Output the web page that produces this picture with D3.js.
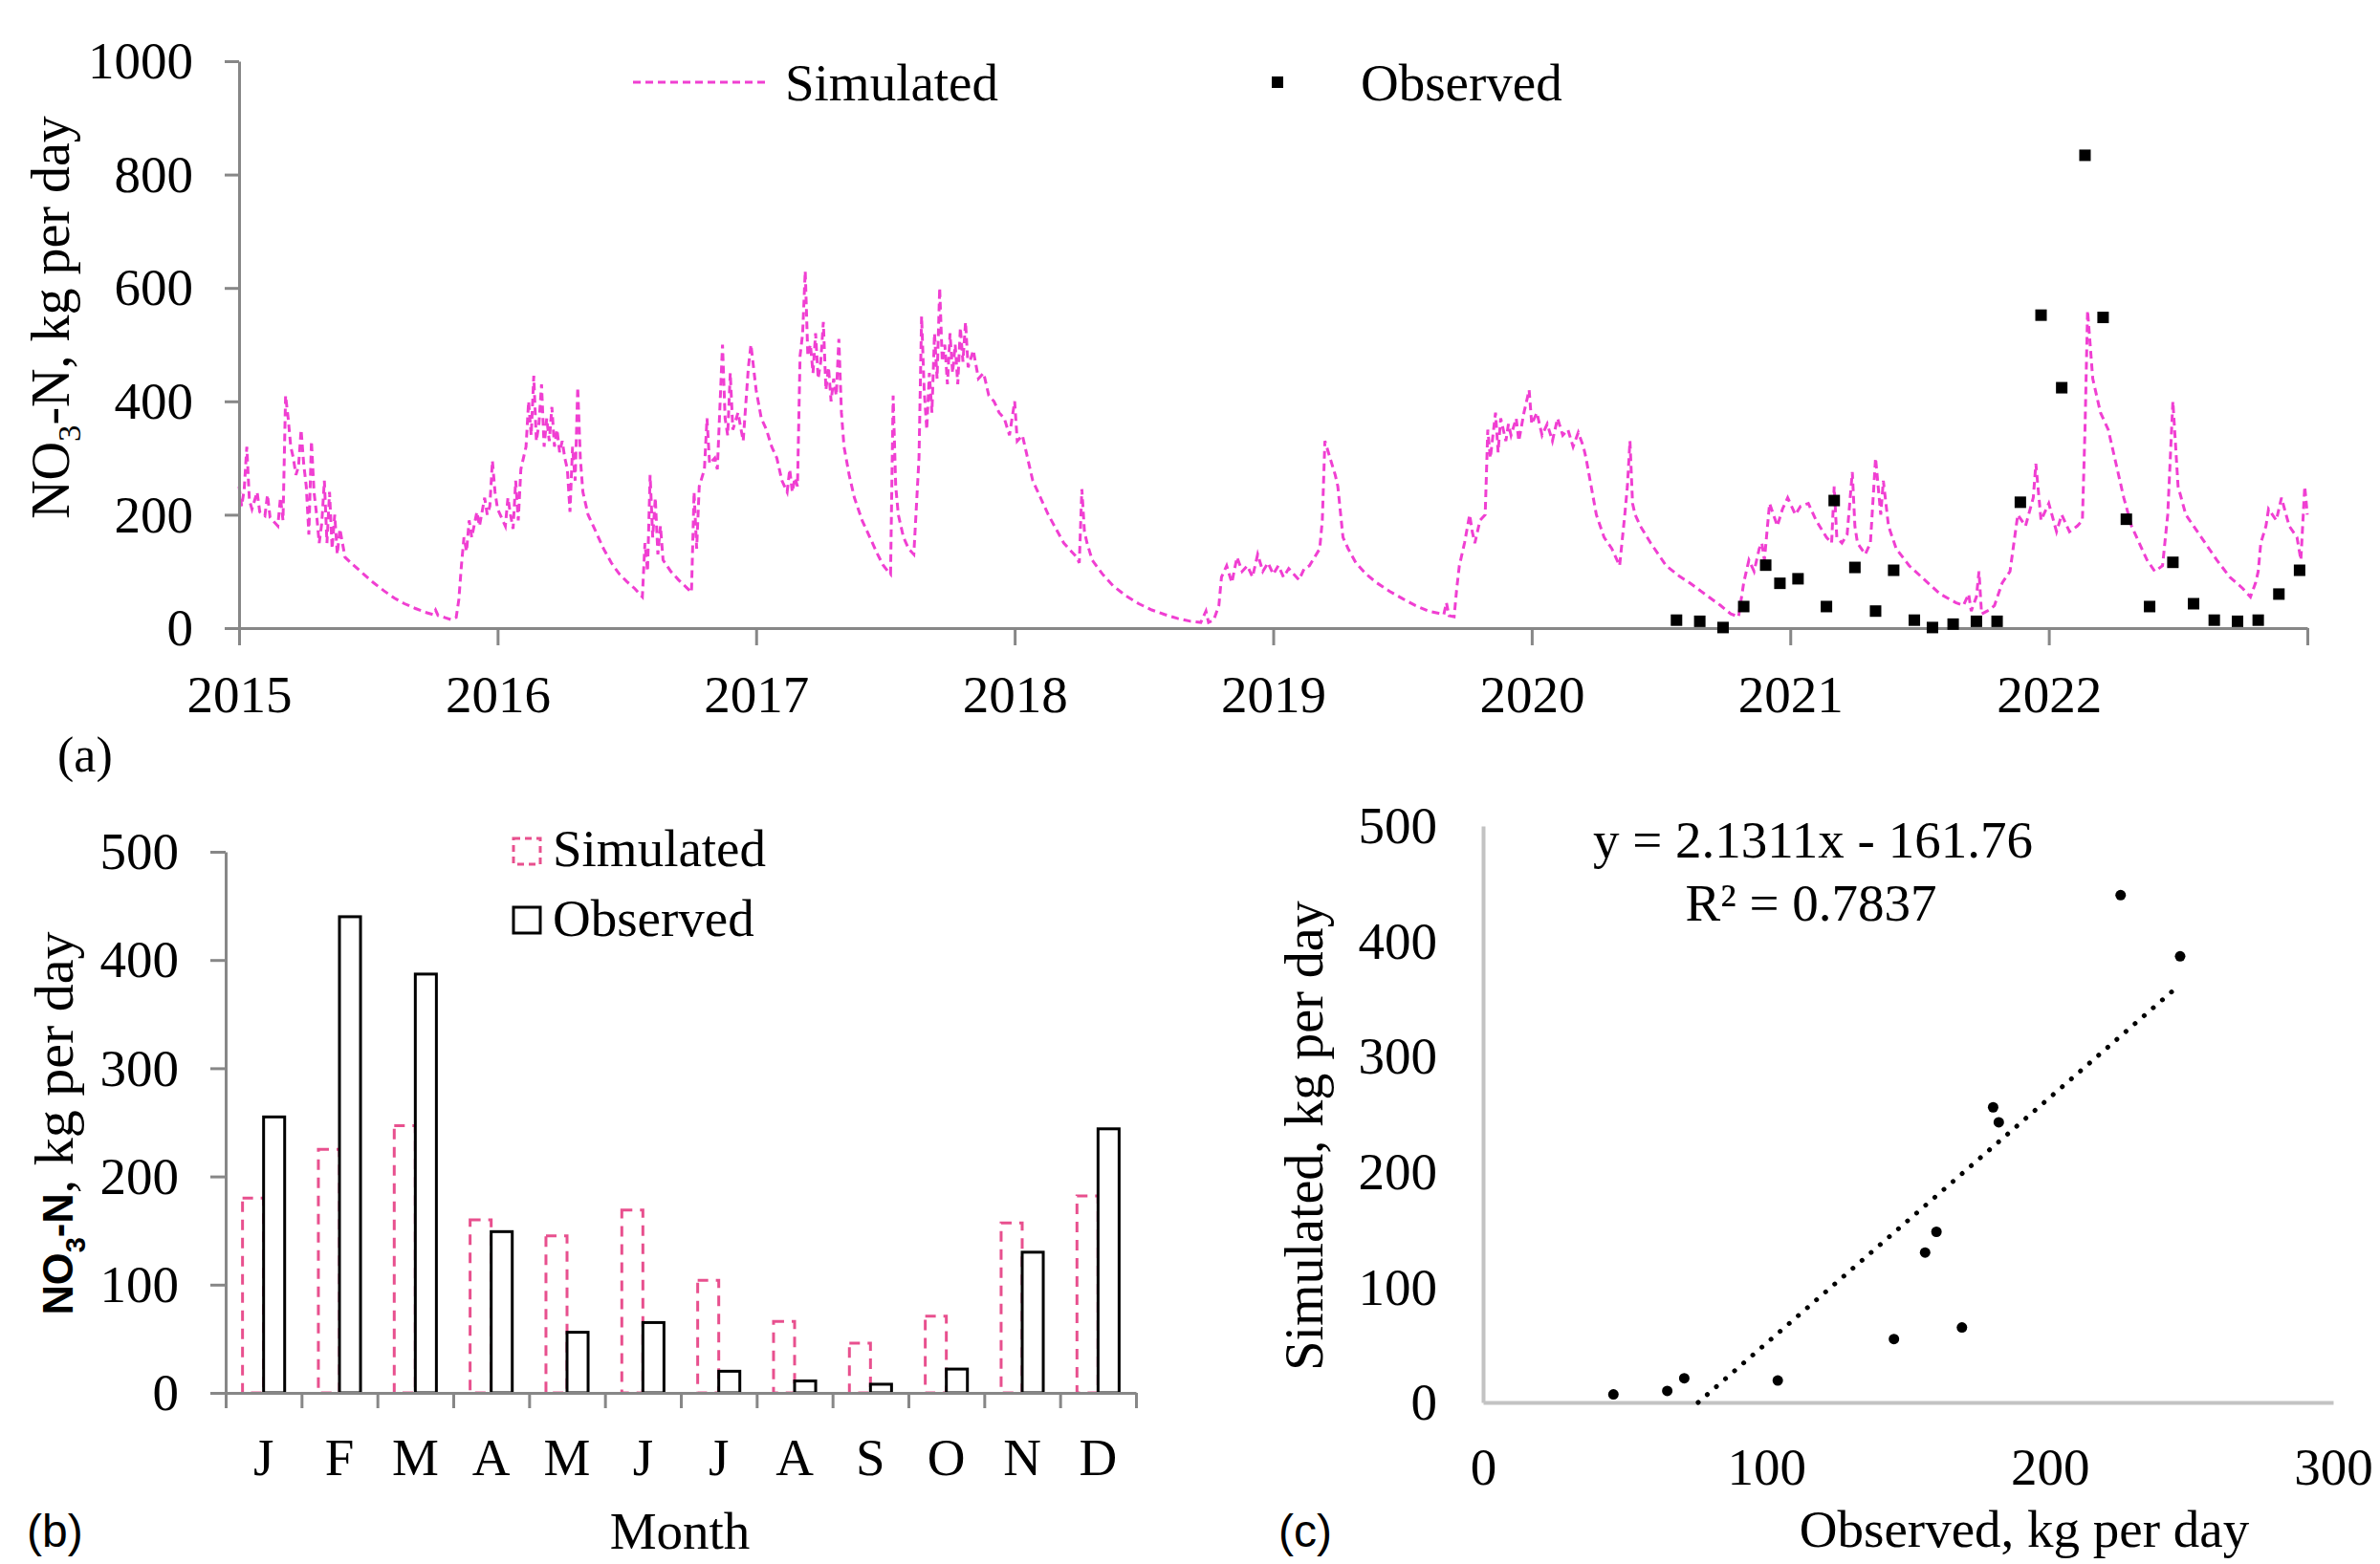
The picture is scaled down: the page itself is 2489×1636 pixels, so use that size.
<!DOCTYPE html>
<html>
<head>
<meta charset="utf-8">
<script src="https://cdn.jsdelivr.net/npm/d3@7"></script>
<style>
body { margin: 0; background: #fff; }
text { font-family: "Liberation Serif", "Times New Roman", serif; }
</style>
</head>
<body>
<div id="chart"></div>
<script>
// (a) daily simulated NO3-N load as [decimal year, kg/day]
let simSeries = [
 [2015.00,250],[2015.01,215],[2015.02,245],[2015.03,320],[2015.04,225],[2015.05,210],[2015.07,240],[2015.08,205],
 [2015.10,198],[2015.11,235],[2015.12,195],[2015.14,185],[2015.15,180],[2015.16,230],[2015.17,190],[2015.18,410],
 [2015.19,370],[2015.20,320],[2015.21,300],[2015.22,270],[2015.23,285],[2015.24,350],[2015.25,290],[2015.26,250],
 [2015.27,165],[2015.28,330],[2015.29,240],[2015.30,200],[2015.31,150],[2015.32,185],[2015.33,260],[2015.34,150],
 [2015.35,240],[2015.36,140],[2015.37,200],[2015.38,130],[2015.39,175],[2015.41,125],[2015.44,112],[2015.48,96],
 [2015.52,80],[2015.56,66],[2015.60,53],[2015.64,43],[2015.68,35],[2015.72,28],[2015.75,24],[2015.76,32],
 [2015.77,22],[2015.80,18],[2015.82,15],[2015.84,19],[2015.85,50],[2015.86,110],[2015.87,160],[2015.88,135],
 [2015.89,190],[2015.90,160],[2015.92,205],[2015.93,180],[2015.95,230],[2015.96,200],[2015.97,215],[2015.98,295],
 [2015.99,240],[2016.00,210],[2016.02,190],[2016.03,180],[2016.04,230],[2016.05,200],[2016.06,175],[2016.07,260],
 [2016.08,190],[2016.09,280],[2016.10,300],[2016.11,320],[2016.12,400],[2016.13,340],[2016.14,445],[2016.15,330],
 [2016.16,360],[2016.17,430],[2016.18,320],[2016.19,370],[2016.20,330],[2016.21,390],[2016.22,320],[2016.23,350],
 [2016.24,310],[2016.25,330],[2016.26,300],[2016.27,280],[2016.28,205],[2016.29,320],[2016.30,260],[2016.31,425],
 [2016.32,300],[2016.33,240],[2016.35,200],[2016.38,170],[2016.41,140],[2016.44,115],[2016.47,96],[2016.50,82],
 [2016.53,70],[2016.55,60],[2016.56,55],[2016.57,150],[2016.58,100],[2016.59,270],[2016.60,160],[2016.61,230],
 [2016.62,130],[2016.63,180],[2016.64,120],[2016.67,100],[2016.70,85],[2016.73,72],[2016.75,63],[2016.76,240],
 [2016.77,140],[2016.78,250],[2016.80,280],[2016.81,370],[2016.82,290],[2016.84,300],[2016.85,280],[2016.87,500],
 [2016.88,370],[2016.89,340],[2016.90,450],[2016.91,350],[2016.93,380],[2016.95,330],[2016.97,460],[2016.98,500],
 [2017.00,420],[2017.02,370],[2017.04,350],[2017.06,320],[2017.08,300],[2017.10,260],[2017.12,240],[2017.13,280],
 [2017.14,240],[2017.15,265],[2017.16,250],[2017.17,480],[2017.18,520],[2017.19,630],[2017.20,480],[2017.21,500],
 [2017.22,450],[2017.23,520],[2017.24,440],[2017.25,470],[2017.26,540],[2017.27,420],[2017.28,460],[2017.29,400],
 [2017.30,440],[2017.31,410],[2017.32,510],[2017.33,380],[2017.34,320],[2017.36,270],[2017.38,230],[2017.41,190],
 [2017.44,160],[2017.47,130],[2017.49,112],[2017.51,100],[2017.52,95],[2017.53,410],[2017.54,250],[2017.55,200],
 [2017.57,160],[2017.59,140],[2017.61,130],[2017.63,300],[2017.64,550],[2017.65,420],[2017.66,350],[2017.67,450],
 [2017.68,380],[2017.69,520],[2017.70,440],[2017.71,600],[2017.72,470],[2017.73,500],[2017.74,430],[2017.75,520],
 [2017.76,450],[2017.77,500],[2017.78,430],[2017.79,530],[2017.80,470],[2017.81,540],[2017.82,460],[2017.84,490],
 [2017.86,440],[2017.88,450],[2017.90,410],[2017.92,400],[2017.94,380],[2017.96,370],[2017.98,340],[2018.00,400],
 [2018.01,330],[2018.03,340],[2018.05,300],[2018.07,260],[2018.09,240],[2018.11,220],[2018.13,200],[2018.16,175],
 [2018.19,150],[2018.22,135],[2018.24,125],[2018.25,115],[2018.26,245],[2018.27,170],[2018.28,150],[2018.30,120],
 [2018.34,95],[2018.38,75],[2018.43,57],[2018.48,43],[2018.53,32],[2018.58,24],[2018.63,17],[2018.68,12],
 [2018.72,10],[2018.74,30],[2018.75,10],[2018.77,14],[2018.79,40],[2018.80,90],[2018.82,110],[2018.84,80],
 [2018.86,125],[2018.88,100],[2018.90,110],[2018.92,90],[2018.94,130],[2018.96,100],[2018.98,115],[2019.00,95],
 [2019.02,110],[2019.04,90],[2019.06,105],[2019.08,95],[2019.10,85],[2019.12,105],[2019.14,110],[2019.16,125],
 [2019.18,140],[2019.19,190],[2019.20,330],[2019.22,300],[2019.24,270],[2019.25,250],[2019.27,160],[2019.29,140],
 [2019.32,115],[2019.36,95],[2019.40,80],[2019.45,65],[2019.50,52],[2019.55,40],[2019.60,30],[2019.64,26],
 [2019.66,24],[2019.67,45],[2019.68,22],[2019.70,20],[2019.71,70],[2019.72,110],[2019.74,150],[2019.76,200],
 [2019.77,170],[2019.78,150],[2019.80,190],[2019.82,200],[2019.83,350],[2019.84,300],[2019.86,380],[2019.87,310],
 [2019.88,370],[2019.90,330],[2019.91,360],[2019.92,340],[2019.94,370],[2019.95,330],[2019.97,380],[2019.99,420],
 [2020.00,360],[2020.02,380],[2020.04,340],[2020.06,360],[2020.08,330],[2020.10,370],[2020.12,340],[2020.14,350],
 [2020.16,320],[2020.18,345],[2020.20,320],[2020.21,300],[2020.23,250],[2020.25,200],[2020.28,160],[2020.31,140],
 [2020.34,110],[2020.36,200],[2020.37,250],[2020.38,330],[2020.39,220],[2020.40,200],[2020.42,180],[2020.46,150],
 [2020.52,110],[2020.57,92],[2020.61,80],[2020.67,60],[2020.73,40],[2020.77,25],[2020.80,20],[2020.81,50],
 [2020.82,80],[2020.84,120],[2020.86,100],[2020.88,140],[2020.89,150],[2020.90,120],[2020.92,220],[2020.95,180],
 [2020.97,210],[2020.99,230],[2021.02,200],[2021.04,215],[2021.07,220],[2021.10,190],[2021.12,175],[2021.14,160],
 [2021.16,150],[2021.17,250],[2021.18,160],[2021.20,150],[2021.22,165],[2021.24,275],[2021.25,180],[2021.26,150],
 [2021.29,130],[2021.31,150],[2021.33,300],[2021.35,200],[2021.36,260],[2021.38,180],[2021.41,140],[2021.46,110],
 [2021.52,85],[2021.58,60],[2021.64,45],[2021.67,40],[2021.69,60],[2021.70,30],[2021.72,55],[2021.73,100],
 [2021.74,25],[2021.77,32],[2021.79,40],[2021.82,80],[2021.85,100],[2021.88,200],[2021.91,180],[2021.94,230],
 [2021.95,290],[2021.97,190],[2022.00,220],[2022.03,170],[2022.05,200],[2022.08,170],[2022.11,180],[2022.13,190],
 [2022.14,350],[2022.15,560],[2022.17,440],[2022.20,380],[2022.23,350],[2022.26,290],[2022.29,230],[2022.32,180],
 [2022.35,150],[2022.38,120],[2022.41,100],[2022.44,110],[2022.46,200],[2022.48,400],[2022.50,250],[2022.53,200],
 [2022.56,180],[2022.59,160],[2022.62,140],[2022.65,120],[2022.70,90],[2022.75,70],[2022.78,55],[2022.80,80],
 [2022.81,100],[2022.82,150],[2022.84,180],[2022.85,210],[2022.88,190],[2022.90,230],[2022.93,180],[2022.96,160],
 [2022.975,120],[2022.99,250],[2023.00,200]
];

// (a) observed samples
let obsYears = [2020.56,2020.65,2020.74,2020.82,2020.905,2020.96,2021.03,2021.14,2021.17,2021.25,2021.33,
  2021.40,2021.48,2021.55,2021.63,2021.72,2021.80,2021.89,2021.97,2022.05,2022.14,2022.21,2022.30,2022.39,
  2022.48,2022.56,2022.64,2022.73,2022.81,2022.89,2022.97];
let obsValues = [14,12,1,38,111,79,87,38,225,107,30,102,14,1,7,12,12,222,552,424,834,548,192,38,116,43,
  14,12,14,60,102];
let yearTicks = [2015,2016,2017,2018,2019,2020,2021,2022,2023];
let loadTicksA = [0,200,400,600,800,1000];

// (b) monthly means
let months = ["J","F","M","A","M","J","J","A","S","O","N","D"];
let monthSim = [180,225,247,160,145,169,104,66,46,71,157,182];
let monthObs = [255,440,387,149,56,65,20,11,8,22,130,244];
let loadTicksB = [0,100,200,300,400,500];

// (c) scatter + fitted line
let scatterX = [46,65,71,104,145,169,156,160,180,182,225,246];
let scatterY = [7,10,21,19,55,65,130,148,256,243,440,387];
let fitSlope = 2.1311, fitIntercept = -161.76, fitR2 = 0.7837;
let ticksCX = [0,100,200,300];
let ticksCY = [0,100,200,300,400,500];

let width = 2489, height = 1636;
let serif = '"Liberation Serif", "Times New Roman", serif';
let sans = '"Liberation Sans", Arial, sans-serif';
let pinkLine = "#f03fd2";
let pinkBar = "#e8508e";
let axisGray = "#878787";
let lightGray = "#c3c3c3";

let svg = d3.select("#chart").append("svg")
    .attr("width", width)
    .attr("height", height)
    .style("background", "#fff");

function styleAxis(g, color, w, size) {
    g.attr("font-family", null).attr("font-size", null);
    g.select(".domain").attr("stroke", color).attr("stroke-width", w);
    g.selectAll(".tick line").attr("stroke", color).attr("stroke-width", w);
    g.selectAll(".tick text").attr("fill", "#000")
        .style("font-family", serif).style("font-size", size + "px");
}

function no3Title(x, y, size, boldSans) {
    let t = svg.append("text")
        .attr("transform", "translate(" + x + "," + y + ") rotate(-90)")
        .style("text-anchor", "middle")
        .style("font-size", size + "px");
    let head = t.append("tspan");
    if (boldSans) head.style("font-family", sans).style("font-weight", "bold").style("font-size", (size * 0.75) + "px");
    head.text("NO");
    let sub = t.append("tspan").attr("dy", size * 0.22).style("font-size", (size * 0.62) + "px").text("3");
    if (boldSans) sub.style("font-family", sans).style("font-weight", "bold").style("font-size", (size * 0.5) + "px");
    let tail = t.append("tspan").attr("dy", -size * 0.22);
    if (boldSans) {
        tail.style("font-family", sans).style("font-weight", "bold").style("font-size", (size * 0.75) + "px").text("-N");
        t.append("tspan").text(", kg per day");
    } else {
        tail.text("-N, kg per day");
    }
}

// ---------- panel (a) ----------
let xa = d3.scaleLinear().domain([2015, 2023]).range([250, 2413]);
let ya = d3.scaleLinear().domain([0, 1000]).range([657, 64]);

let line = d3.line().x(d => xa(d[0])).y(d => ya(d[1]));
svg.append("path")
    .datum(simSeries)
    .attr("d", line)
    .attr("fill", "none")
    .attr("stroke", pinkLine)
    .attr("stroke-width", 3)
    .attr("stroke-dasharray", "8,5");

let gxa = svg.append("g").attr("transform", "translate(0," + ya(0) + ")")
    .call(d3.axisBottom(xa).tickValues(yearTicks).tickSize(18).tickSizeOuter(0).tickPadding(31)
        .tickFormat(d => d < 2023 ? d : ""));
styleAxis(gxa, axisGray, 3, 55);

let gya = svg.append("g").attr("transform", "translate(" + xa(2015) + ",0)")
    .call(d3.axisLeft(ya).tickValues(loadTicksA).tickSize(15).tickSizeOuter(0).tickPadding(33)
        .tickFormat(d3.format("d")));
styleAxis(gya, axisGray, 3, 55);

svg.append("g").selectAll("rect")
    .data(obsYears)
    .enter()
    .append("rect")
    .attr("x", (d, i) => xa(d) - 6)
    .attr("y", (d, i) => ya(obsValues[i]) - 6)
    .attr("width", 12)
    .attr("height", 12)
    .attr("fill", "#000");

no3Title(72, 332, 56, false);

// legend (a)
svg.append("line").attr("x1", 662).attr("x2", 801).attr("y1", 86).attr("y2", 86)
    .attr("stroke", pinkLine).attr("stroke-width", 3).attr("stroke-dasharray", "8,5");
svg.append("text").attr("x", 821).attr("y", 105).style("font-size", "55px").text("Simulated");
svg.append("rect").attr("x", 1330).attr("y", 80).attr("width", 12).attr("height", 12).attr("fill", "#000");
svg.append("text").attr("x", 1423).attr("y", 105).style("font-size", "55px").text("Observed");

svg.append("text").attr("x", 60).attr("y", 807).style("font-size", "52px").text("(a)");

// ---------- panel (b) ----------
let xb = d3.scaleBand().domain(d3.range(12)).range([236, 1188]).paddingInner(0).paddingOuter(0);
let xsub = d3.scaleBand().domain(["sim", "obs"]).range([0, xb.bandwidth()]).paddingInner(0).paddingOuter(0.8);
let yb = d3.scaleLinear().domain([0, 500]).range([1457, 891]);

svg.append("g").selectAll("rect")
    .data(monthSim)
    .enter()
    .append("rect")
    .attr("x", (d, i) => xb(i) + xsub("sim"))
    .attr("y", d => yb(d))
    .attr("width", xsub.bandwidth())
    .attr("height", d => yb(0) - yb(d))
    .attr("fill", "none")
    .attr("stroke", pinkBar)
    .attr("stroke-width", 3)
    .attr("stroke-dasharray", "11,8");

svg.append("g").selectAll("rect")
    .data(monthObs)
    .enter()
    .append("rect")
    .attr("x", (d, i) => xb(i) + xsub("obs"))
    .attr("y", d => yb(d))
    .attr("width", xsub.bandwidth())
    .attr("height", d => yb(0) - yb(d))
    .attr("fill", "#fff")
    .attr("stroke", "#000")
    .attr("stroke-width", 3);

let boundary = d3.scaleLinear().domain([0, 12]).range(xb.range());
let gxb = svg.append("g").attr("transform", "translate(0," + yb(0) + ")")
    .call(d3.axisBottom(boundary).tickValues(d3.range(13)).tickFormat("").tickSize(16).tickSizeOuter(0));
styleAxis(gxb, axisGray, 3, 55);

let gyb = svg.append("g").attr("transform", "translate(" + xb.range()[0] + ",0)")
    .call(d3.axisLeft(yb).tickValues(loadTicksB).tickSize(16).tickSizeOuter(0).tickPadding(33));
styleAxis(gyb, axisGray, 3, 55);

svg.append("g").selectAll("text")
    .data(months)
    .enter()
    .append("text")
    .attr("x", (d, i) => xb(i) + xb.bandwidth() / 2)
    .attr("y", 1543)
    .style("text-anchor", "middle")
    .style("font-size", "55px")
    .text(d => d);

svg.append("text").attr("x", 711).attr("y", 1620).style("text-anchor", "middle")
    .style("font-size", "55px").text("Month");
no3Title(76, 1175, 58, true);

// legend (b)
svg.append("rect").attr("x", 537).attr("y", 877).attr("width", 28).attr("height", 27)
    .attr("fill", "none").attr("stroke", pinkBar).attr("stroke-width", 3).attr("stroke-dasharray", "7,5");
svg.append("text").attr("x", 578).attr("y", 906).style("font-size", "55px").text("Simulated");
svg.append("rect").attr("x", 537).attr("y", 949).attr("width", 28).attr("height", 27)
    .attr("fill", "#fff").attr("stroke", "#000").attr("stroke-width", 3);
svg.append("text").attr("x", 578).attr("y", 979).style("font-size", "55px").text("Observed");

svg.append("text").attr("x", 28).attr("y", 1618).style("font-family", sans)
    .style("font-size", "48px").text("(b)");

// ---------- panel (c) ----------
let xc = d3.scaleLinear().domain([0, 300]).range([1551, 2440]);
let yc = d3.scaleLinear().domain([0, 500]).range([1467, 864]);

let gxc = svg.append("g").attr("transform", "translate(0," + yc(0) + ")")
    .call(d3.axisBottom(xc).tickValues(ticksCX).tickSize(0).tickSizeOuter(0).tickPadding(47));
styleAxis(gxc, lightGray, 4, 55);
let gyc = svg.append("g").attr("transform", "translate(" + xc(0) + ",0)")
    .call(d3.axisLeft(yc).tickValues(ticksCY).tickSize(0).tickSizeOuter(0).tickPadding(48));
styleAxis(gyc, lightGray, 4, 55);

// fitted line, drawn between the x-intercept and the largest x
let x0 = -fitIntercept / fitSlope;
let x1 = d3.max(scatterX);
svg.append("line")
    .attr("x1", xc(x0)).attr("y1", yc(0))
    .attr("x2", xc(x1)).attr("y2", yc(fitSlope * x1 + fitIntercept))
    .attr("stroke", "#000")
    .attr("stroke-width", 5)
    .attr("stroke-linecap", "round")
    .attr("stroke-dasharray", "0.1,12.5");

svg.append("g").selectAll("circle")
    .data(scatterX)
    .enter()
    .append("circle")
    .attr("cx", d => xc(d))
    .attr("cy", (d, i) => yc(scatterY[i]))
    .attr("r", 5.5)
    .attr("fill", "#000");

svg.append("text").attr("x", 1896).attr("y", 897).style("text-anchor", "middle")
    .style("font-size", "55px").text("y = " + fitSlope + "x - " + (-fitIntercept));
svg.append("text").attr("x", 1894).attr("y", 963).style("text-anchor", "middle")
    .style("font-size", "55px").text("R² = " + fitR2);

svg.append("text")
    .attr("transform", "translate(1383,1188) rotate(-90)")
    .style("text-anchor", "middle")
    .style("font-size", "56px")
    .text("Simulated, kg per day");
svg.append("text").attr("x", 2117).attr("y", 1618).style("text-anchor", "middle")
    .style("font-size", "55px").text("Observed, kg per day");
svg.append("text").attr("x", 1337).attr("y", 1618).style("font-family", sans)
    .style("font-size", "48px").text("(c)");
</script>
</body>
</html>
